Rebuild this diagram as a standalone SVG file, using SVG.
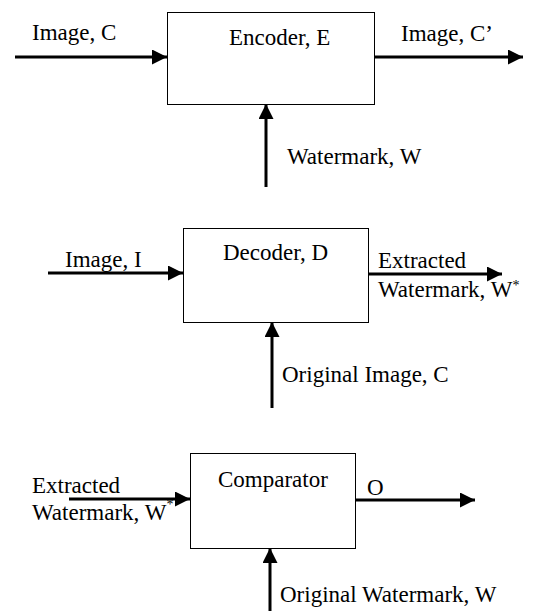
<svg xmlns="http://www.w3.org/2000/svg" width="545" height="611" viewBox="0 0 545 611">
<style>
text{font-family:"Liberation Serif","Times New Roman",serif;font-size:23px;fill:#000}
.sup{font-size:14px}
.box{fill:#fff;stroke:#000;stroke-width:1}
.arr{stroke:#000;stroke-width:3;fill:none;marker-end:url(#ah)}
</style>
<defs>
<marker id="ah" viewBox="0 0 15 15" refX="15" refY="7.5" markerWidth="15" markerHeight="15" markerUnits="userSpaceOnUse" orient="auto">
<path d="M0,0 L15,7.5 L0,15 z" fill="#000"/>
</marker>
</defs>
<g id="connectors">
<line class="arr" x1="15" y1="57" x2="167" y2="57"/>
<line class="arr" x1="374" y1="57" x2="523" y2="57"/>
<line class="arr" x1="266" y1="187" x2="266" y2="104"/>
<line class="arr" x1="48" y1="273" x2="183" y2="273"/>
<line class="arr" x1="368" y1="274" x2="502" y2="274"/>
<line class="arr" x1="272" y1="408" x2="272" y2="322"/>
<line class="arr" x1="69" y1="499" x2="190" y2="499"/>
<line class="arr" x1="355" y1="500" x2="475" y2="500"/>
<line class="arr" x1="270" y1="611" x2="270" y2="548"/>
</g>
<g id="labels">
<text x="32" y="40">Image, C</text>
<text x="401" y="41">Image, C’</text>
<text x="287" y="164">Watermark, W</text>
<text x="65" y="267">Image, I</text>
<text x="378" y="268">Extracted</text>
<text x="378" y="297">Watermark, W<tspan class="sup" dy="-7">*</tspan></text>
<text x="282" y="382">Original Image, C</text>
<text x="32" y="493">Extracted</text>
<text x="32" y="520">Watermark, W<tspan class="sup" dy="-11">*</tspan></text>
<text x="367" y="495">O</text>
<text x="280" y="602">Original Watermark, W</text>
</g>
<g id="encoder">
<rect class="box" x="167.5" y="12.5" width="207" height="92"/>
<text x="229" y="45">Encoder, E</text>
</g>
<g id="decoder">
<rect class="box" x="183.5" y="228.5" width="185" height="94"/>
<text x="223" y="260">Decoder, D</text>
</g>
<g id="comparator">
<rect class="box" x="190.5" y="453.5" width="165" height="95"/>
<text x="218" y="487">Comparator</text>
</g>
</svg>
